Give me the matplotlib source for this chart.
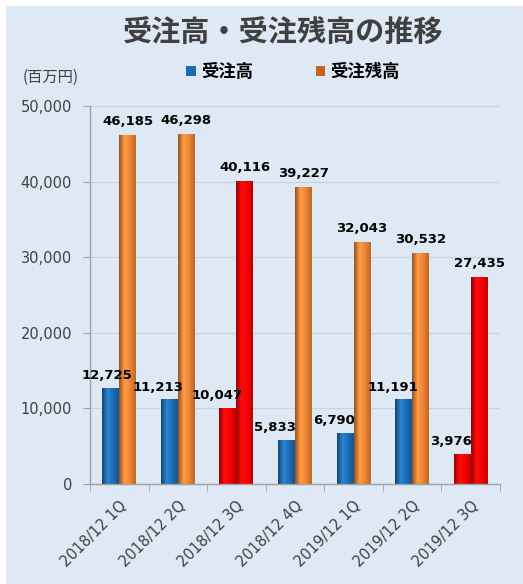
import numpy as np
import matplotlib.pyplot as plt
from matplotlib.patches import Patch, Rectangle
from matplotlib.colors import LinearSegmentedColormap, to_rgb

plt.rcParams['font.family'] = ['DejaVu Sans', 'Noto Sans CJK JP']

periods = ["2018/12 1Q", "2018/12 2Q", "2018/12 3Q", "2018/12 4Q",
           "2019/12 1Q", "2019/12 2Q", "2019/12 3Q"]
orders = [12725, 11213, 10047, 5833, 6790, 11191, 3976]
backlog = [46185, 46298, 40116, 39227, 32043, 30532, 27435]
highlight = [False, False, True, False, False, False, True]

title = "受注高・受注残高の推移"
series_names = ["受注高", "受注残高"]
unit = "(百万円)"

BLUE = "#1b6cb6"
ORANGE = "#ee8434"
RED = "#f50000"
BG = "#dfe9f5"
TXT = "#404040"
JP = ['Noto Sans CJK JP', 'DejaVu Sans']

fig = plt.figure(figsize=(5.23, 5.84), dpi=100, facecolor="white")
fig.patches.append(Rectangle((6 / 523, 0), 1, 1 - 6 / 584, transform=fig.transFigure,
                             facecolor=BG, edgecolor="none", zorder=-10))
ax = fig.add_axes([90 / 523, 1 - 484 / 584, 410 / 523, 378 / 584])
ax.set_facecolor("none")

x = np.arange(len(periods))
w = 0.29
c1 = [RED if h else BLUE for h in highlight]
c2 = [RED if h else ORANGE for h in highlight]
b1 = ax.bar(x - w / 2, orders, w, color=c1, zorder=2)
b2 = ax.bar(x + w / 2, backlog, w, color=c2, zorder=2)


def shade(bar):
    # cylinder-like shading: dark left edge, light centre, slightly dark right
    c = np.array(to_rgb(bar.get_facecolor()[:3]))
    dark = c * 0.62
    light = np.minimum(c * 1.1 + 0.05, 1)
    cmap = LinearSegmentedColormap.from_list("s", [dark, light, c, c * 0.78])
    x0, w0, h0 = bar.get_x(), bar.get_width(), bar.get_height()
    grad = np.linspace(0, 1, 64).reshape(1, -1)
    im = ax.imshow(grad, cmap=cmap, extent=(x0, x0 + w0, 0, h0), aspect="auto",
                   zorder=2, interpolation="bilinear")
    im.set_clip_path(bar)
    bar.set_facecolor("none")


for b in list(b1) + list(b2):
    shade(b)
ax.set_xlim(-0.5, len(periods) - 0.5)
ax.set_ylim(0, 50000)

for i, (xi, v) in enumerate(zip(x, orders)):
    dx = -3 if i == 0 else -8
    ax.annotate(f"{v:,}", (xi - w / 2, v), xytext=(dx, 4), textcoords="offset points",
                ha="center", va="bottom", fontsize=9.5, fontweight="bold", color="black", zorder=5)
for xi, v in zip(x, backlog):
    ax.annotate(f"{v:,}", (xi + w / 2, v), xytext=(0, 5), textcoords="offset points",
                ha="center", va="bottom", fontsize=9.5, fontweight="bold", color="black", zorder=5)

ax.set_yticks(np.arange(0, 50001, 10000))
ax.set_yticklabels([f"{t:,}" for t in range(0, 50001, 10000)])
ax.yaxis.grid(True, color="#c9d2de", linewidth=0.9, zorder=0)
ax.set_axisbelow(True)
ax.tick_params(axis="y", colors="#a0a0a0", labelcolor=TXT, labelsize=10.5, length=5, pad=8)

ax.set_xticks(x)
ax.set_xticklabels(periods, rotation=45, ha="right", rotation_mode="anchor")
ax.set_xticks(np.arange(-0.5, len(periods), 1), minor=True)
ax.tick_params(axis="x", which="major", length=0, labelcolor=TXT, labelsize=10.5, pad=10)
ax.tick_params(axis="x", which="minor", length=5, color="#a0a0a0")
for s in ["top", "right"]:
    ax.spines[s].set_visible(False)
for s in ["left", "bottom"]:
    ax.spines[s].set_color("#a0a0a0")
    ax.spines[s].set_linewidth(1)

fig.text(283 / 523, 1 - 33 / 584, title, ha="center", va="center", fontsize=21,
         fontweight="bold", color=TXT, family=JP)
fig.text(51 / 523, 1 - 77 / 584, unit, ha="center", va="center", fontsize=11,
         color=TXT, family=JP)

handles = [Patch(facecolor=BLUE), Patch(facecolor="#c8621f")]
fig.legend(handles, series_names, loc="center", bbox_to_anchor=(293 / 523, 1 - 72 / 584),
           ncol=2, frameon=False, handlelength=0.55, handleheight=0.55, handletextpad=0.3,
           columnspacing=3.6, prop={"family": JP, "weight": "bold", "size": 12.5})

fig.savefig("out.png", dpi=100, facecolor=fig.get_facecolor())
